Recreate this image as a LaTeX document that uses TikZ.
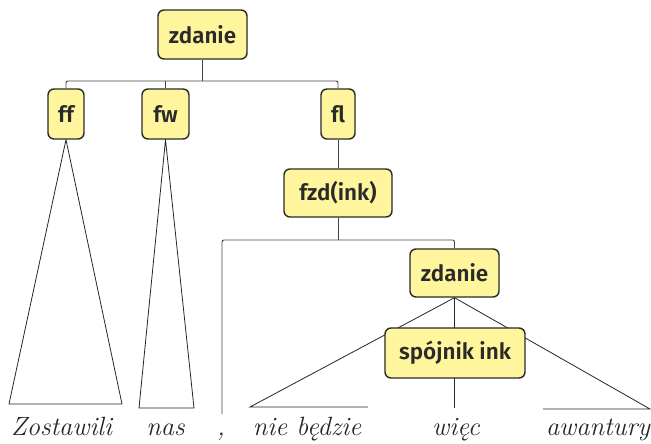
\documentclass[tikz,border=0pt]{standalone}
\usepackage{fontspec}
\newfontfamily\boxfont{Fira Sans SemiBold}
\usetikzlibrary{backgrounds}
\definecolor{boxfill}{HTML}{FFF59D}
\definecolor{boxline}{HTML}{2A2A2A}
\definecolor{linec}{HTML}{444444}
\tikzset{
  cat/.style={draw=boxline, line width=1.4bp, fill=boxfill, rounded corners=6bp,
    inner sep=0pt, minimum height=49bp, font=\boxfont\fontsize{22.5}{25}\selectfont, text=boxline},
  word/.style={anchor=base, inner sep=0pt, font=\itshape\fontsize{26.5}{30}\selectfont, text=black!85},
  conn/.style={draw=linec, line width=0.9bp},
  tri/.style={draw=black!85, line width=0.8bp},
}
\begin{document}
\begin{tikzpicture}[x=1bp,y=-1bp]
\useasboundingbox (0,0) rectangle (651,444);
% category boxes
\node[cat, minimum width=89bp] (z1) at (202.5,34.5) {zdanie};
\node[cat, minimum width=36bp, minimum height=50bp] (ff) at (66,114) {ff};
\node[cat, minimum width=47bp, minimum height=50bp] (fw) at (165.5,114) {fw};
\node[cat, minimum width=34bp, minimum height=50bp] (fl) at (338,114) {fl};
\node[cat, minimum width=108bp, minimum height=48bp] (fzd) at (338,193) {fzd(ink)};
\node[cat, minimum width=89bp, minimum height=48bp] (z2) at (454.5,273) {zdanie};
\node[cat, minimum width=140bp, minimum height=50bp] (sp) at (455,353) {spójnik ink};
% words
\node[word] (w1) at (61.5,435) {Zostawili};
\node[word] (w2) at (165.5,435) {nas};
\node[word] (w3) at (221,435) {,};
\node[word] (w4) at (307,435) {nie będzie};
\node[word] (w5) at (456,435) {więc};
\node[word] (w6) at (598,435) {awantury};
% coordinates
\coordinate (bus1) at (202.5,81);
\coordinate (bus2) at (338,240);
\coordinate (cb) at (222,414);
\coordinate (ffl) at (9,404);
\coordinate (ffr) at (122,404);
\coordinate (fwl) at (139,408);
\coordinate (fwr) at (194,408);
\coordinate (zl1) at (250,407);
\coordinate (zl2) at (368,407);
\coordinate (zr1) at (543,409);
\coordinate (zr2) at (650,409);
\coordinate (zv) at (454.5,408);
\begin{scope}[on background layer]
\draw[conn, rounded corners=2bp] (ff.north) |- (bus1) -| (fl.north);
\draw[conn] (z1.south) -- (bus1);
\draw[conn] (fw.north) -- (fw.north |- bus1);
\draw[conn] (fl.south) -- (fzd.north);
\draw[conn, rounded corners=2bp] (cb) |- (bus2) -| (z2.north);
\draw[conn] (fzd.south) -- (bus2);
\draw[tri] (ff.south) -- (ffl) -- (ffr) -- cycle;
\draw[tri] (fw.south) -- (fwl) -- (fwr) -- cycle;
\draw[tri] (zl2) -- (zl1) -- (z2.south) -- (zr2) -- (zr1);
\draw[tri] (z2.south) -- (zv);
\end{scope}
\end{tikzpicture}
\end{document}
